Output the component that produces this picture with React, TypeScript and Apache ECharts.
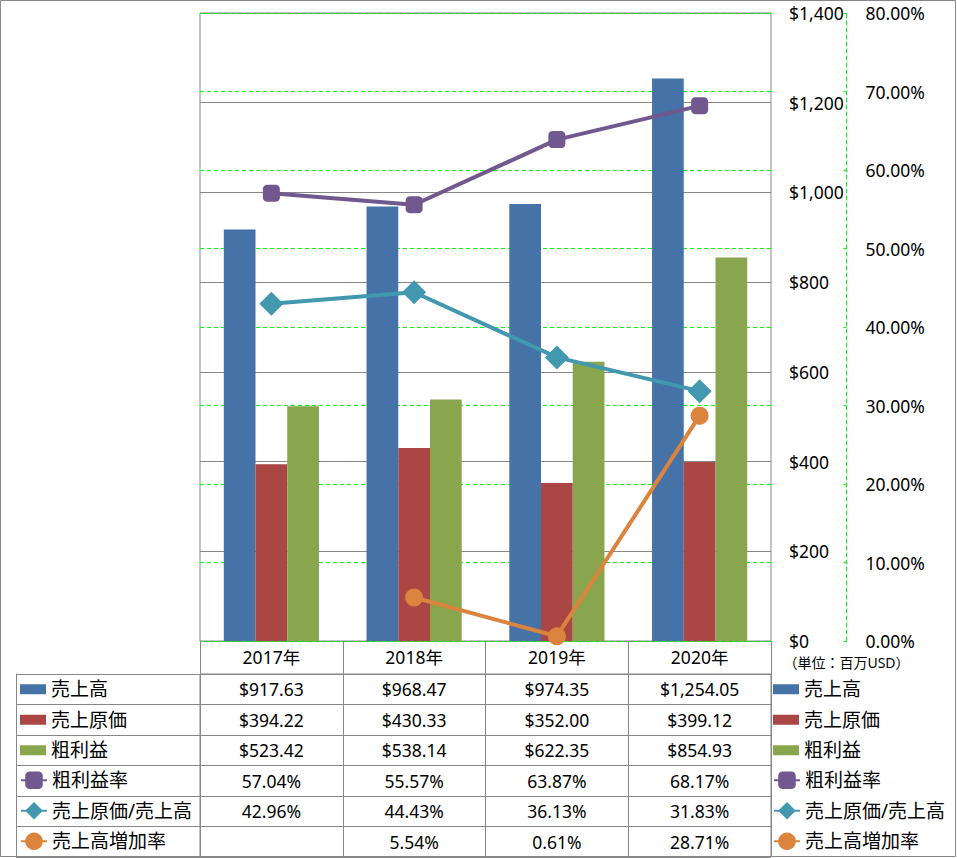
import React, { useEffect, useRef } from 'react';
import * as echarts from 'echarts';

const years = ['2017年', '2018年', '2019年', '2020年'];
const sales = [917.63, 968.47, 974.35, 1254.05];
const costOfSales = [394.22, 430.33, 352.0, 399.12];
const grossProfit = [523.42, 538.14, 622.35, 854.93];
const grossMargin = [57.04, 55.57, 63.87, 68.17];
const costRatio = [42.96, 44.43, 36.13, 31.83];
const salesGrowth: (number | null)[] = [null, 5.54, 0.61, 28.71];

const barNames = ['売上高', '売上原価', '粗利益'];
const lineNames = ['粗利益率', '売上原価/売上高', '売上高増加率'];
const barColors = ['#4572A7', '#AA4643', '#89A54E'];
const lineColors = ['#71588F', '#4198AF', '#DB843D'];
const lineSymbols = ['roundRect', 'diamond', 'circle'];
const lineSymbolSizes = [17, 24, 18];

const usdAxis = { min: 0, max: 1400, interval: 200 };
const pctAxis = { min: 0, max: 80, interval: 10 };
const unitLabel = '（単位：百万USD）';

const FONT = "'Noto Sans', 'Noto Sans CJK JP', sans-serif";
const GRAY = '#878787';
const GREEN = '#00FF00';

const fmtUsd = (v: number | null) =>
  v == null ? '' : '$' + v.toLocaleString('en-US', { minimumFractionDigits: 2, maximumFractionDigits: 2 });
const fmtPct = (v: number | null) => (v == null ? '' : v.toFixed(2) + '%');

const tableRows: { values: (number | null)[]; fmt: (v: number | null) => string }[] = [
  { values: sales, fmt: fmtUsd },
  { values: costOfSales, fmt: fmtUsd },
  { values: grossProfit, fmt: fmtUsd },
  { values: grossMargin, fmt: fmtPct },
  { values: costRatio, fmt: fmtPct },
  { values: salesGrowth, fmt: fmtPct },
];
const rowNames = [...barNames, ...lineNames];

export default function App() {
  const ref = useRef<HTMLDivElement>(null);
  useEffect(() => {
    if (!ref.current) return;
    const chart = echarts.init(ref.current, undefined, { renderer: 'svg' });

    const cellPos: number[][] = [];
    const cellText: string[] = [];
    tableRows.forEach((row, r) => {
      row.values.forEach((v, c) => {
        cellPos.push([c, r]);
        cellText.push(row.fmt(v));
      });
    });

    const legendText = { fontSize: 19, lineHeight: 30.5, color: '#000', fontFamily: FONT };
    const mkLegend = (left: number, top: number, names: string[], itemHeight: number, icon?: string) => ({
      orient: 'vertical',
      left,
      top,
      padding: 0,
      itemGap: 0,
      itemWidth: 26,
      itemHeight,
      selectedMode: false,
      icon,
      data: names,
      textStyle: legendText,
    });

    const option: any = {
      animation: false,
      textStyle: { fontFamily: FONT },
      graphic: [
        {
          type: 'rect',
          shape: { x: 0.5, y: 0.5, width: 955, height: 856 },
          style: { fill: 'none', stroke: GRAY, lineWidth: 1 },
          silent: true,
        },
      ],
      legend: [
        mkLegend(20, 674, barNames, 10, 'rect'),
        mkLegend(20, 765, lineNames, 22),
        mkLegend(773, 674, barNames, 10, 'rect'),
        mkLegend(773, 765, lineNames, 22),
      ],
      grid: [
        { left: 200, right: 186, top: 13, bottom: 217, show: true, borderColor: GRAY, borderWidth: 1, backgroundColor: 'transparent' },
        { left: 200, right: 186, top: 674, bottom: 1, show: true, borderColor: GRAY, borderWidth: 1, backgroundColor: 'transparent' },
      ],
      xAxis: [
        {
          type: 'category',
          gridIndex: 0,
          data: years,
          axisLine: { show: false },
          axisTick: { show: true, length: 33, lineStyle: { color: GRAY } },
          axisLabel: { margin: 7, fontSize: 17.5, color: '#000', fontFamily: FONT },
          splitLine: { show: false },
        },
        {
          type: 'category',
          gridIndex: 1,
          data: years,
          axisLine: { show: false },
          axisTick: { show: false },
          axisLabel: { show: false },
          splitLine: { show: true, lineStyle: { color: GRAY } },
        },
      ],
      yAxis: [
        {
          type: 'value',
          gridIndex: 0,
          position: 'right',
          ...usdAxis,
          axisLine: { show: false },
          axisTick: { show: false },
          axisLabel: {
            margin: 18,
            fontSize: 17.5,
            color: '#000',
            fontFamily: FONT,
            formatter: (v: number) => '$' + v.toLocaleString('en-US'),
          },
          splitLine: { show: true, lineStyle: { color: GRAY } },
        },
        {
          type: 'value',
          gridIndex: 0,
          position: 'right',
          offset: 75.5,
          ...pctAxis,
          name: unitLabel,
          nameLocation: 'start',
          nameGap: 14,
          nameTextStyle: { fontSize: 14, color: '#000', fontFamily: FONT },
          axisLine: { show: true, lineStyle: { color: GREEN, type: [4, 3] } },
          axisTick: { show: true, inside: true, length: 3, lineStyle: { color: GREEN } },
          axisLabel: {
            margin: 19,
            fontSize: 17.5,
            color: '#000',
            fontFamily: FONT,
            formatter: (v: number) => v.toFixed(2) + '%',
          },
          splitLine: { show: true, lineStyle: { color: GREEN, type: [4, 3] } },
        },
        {
          type: 'category',
          gridIndex: 1,
          data: rowNames,
          inverse: true,
          axisLine: { show: true, lineStyle: { color: GRAY } },
          axisTick: { show: true, length: 184, lineStyle: { color: GRAY } },
          axisLabel: { show: false },
          splitLine: { show: true, lineStyle: { color: GRAY } },
        },
        {
          type: 'category',
          gridIndex: 1,
          data: rowNames,
          inverse: true,
          position: 'left',
          offset: 184,
          axisLine: { show: true, lineStyle: { color: GRAY } },
          axisTick: { show: false },
          axisLabel: { show: false },
          splitLine: { show: false },
        },
      ],
      series: [
        ...[sales, costOfSales, grossProfit].map((d, i) => ({
          type: 'bar',
          name: barNames[i],
          data: d,
          xAxisIndex: 0,
          yAxisIndex: 0,
          barGap: '0%',
          barCategoryGap: '33.33%',
          itemStyle: { color: barColors[i] },
          silent: true,
        })),
        ...[grossMargin, costRatio, salesGrowth].map((d, i) => ({
          type: 'line',
          name: lineNames[i],
          data: d,
          xAxisIndex: 0,
          yAxisIndex: 1,
          symbol: lineSymbols[i],
          symbolSize: lineSymbolSizes[i],
          lineStyle: { width: 4, color: lineColors[i] },
          itemStyle: { color: lineColors[i] },
          z: 5,
          silent: true,
        })),
        {
          type: 'custom',
          coordinateSystem: 'cartesian2d',
          xAxisIndex: 1,
          yAxisIndex: 2,
          data: cellPos,
          silent: true,
          z: 10,
          renderItem: (params: any, api: any) => {
            const pt = api.coord([api.value(0), api.value(1)]);
            return {
              type: 'text',
              x: pt[0],
              y: pt[1],
              style: {
                text: cellText[params.dataIndex],
                align: 'center',
                verticalAlign: 'middle',
                fill: '#000',
                font: `17.5px ${FONT}`,
              },
            };
          },
        },
      ],
    };
    chart.setOption(option);
    return () => chart.dispose();
  }, []);
  return <div ref={ref} style={{ position: 'absolute', left: 0, top: 0, width: 957, height: 858, background: '#fff' }} />;
}
